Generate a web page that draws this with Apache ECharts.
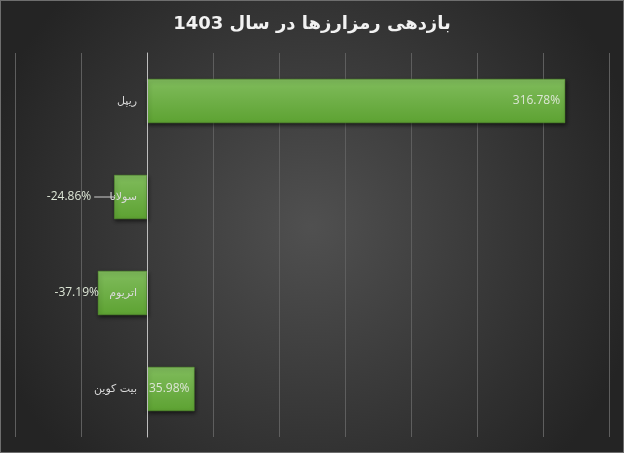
<!DOCTYPE html>
<html>
<head>
<meta charset="utf-8">
<script src="https://cdn.jsdelivr.net/npm/echarts@6/dist/echarts.min.js"></script>
<style>
  html, body { margin: 0; padding: 0; background: #2a2a2a; }
  #main { width: 622px; height: 451px; border: 1px solid #6e6e6e; }
</style>
</head>
<body>
<div id="main"></div>
<script>
// داده‌ها
var categories = ['ریپل', 'سولانا', 'اتریوم', 'بیت کوین'];
var returns = [316.78, -24.86, -37.19, 35.98];
var axisTicks = [-100, 350, 50]; // min, max, interval

var myChart = echarts.init(document.getElementById('main'));

var option = {
    backgroundColor: {
        type: 'radial', x: 0.5, y: 0.5, r: 0.75,
        colorStops: [
            { offset: 0, color: '#505050' },
            { offset: 1, color: '#242424' }
        ]
    },
    title: {
        text: 'بازدهی رمزارزها در سال 1403',
        left: 'center',
        top: 9,
        textStyle: { color: '#f2f2f2', fontSize: 18, fontWeight: 'bold', fontFamily: 'DejaVu Sans' }
    },
    grid: { left: 14, right: 14, top: 52, bottom: 15, containLabel: false, outerBoundsMode: 'none' },
    xAxis: {
        type: 'value',
        min: axisTicks[0],
        max: axisTicks[1],
        interval: axisTicks[2],
        axisLabel: { show: false },
        axisLine: { show: false },
        axisTick: { show: false },
        splitLine: { lineStyle: { color: '#5e5e5e', width: 1 } }
    },
    yAxis: {
        type: 'category',
        data: categories,
        inverse: true,
        axisLine: { onZero: true, lineStyle: { color: '#bdbdbd', width: 1 } },
        axisTick: { show: false },
        axisLabel: {
            margin: 10,
            color: '#d9d9d9',
            fontSize: 11,
            fontFamily: 'DejaVu Sans'
        },
        z: 10
    },
    series: [{
        type: 'bar',
        data: returns,
        barWidth: '46%',
        itemStyle: {
            color: {
                type: 'linear', x: 0, y: 0, x2: 0, y2: 1,
                colorStops: [
                    { offset: 0, color: '#80bc5c' },
                    { offset: 1, color: '#5da232' }
                ]
            },
            borderColor: '#5a9a30',
            borderWidth: 0.5,
            shadowColor: 'rgba(0,0,0,0.6)',
            shadowBlur: 4,
            shadowOffsetX: 1,
            shadowOffsetY: 2
        },
        label: {
            show: true,
            color: '#dde6d6',
            fontSize: 12,
            fontFamily: 'Open Sans',
            formatter: function (p) {
                var txt = p.value.toFixed(2) + '%';
                // برچسب سولانا با خط راهنما
                if (p.dataIndex === 1) return txt + '{g|}{l|}';
                return txt;
            },
            rich: {
                g: { width: 3, height: 1 },
                l: { width: 21, height: 1, backgroundColor: '#cfcfcf' }
            },
            position: 'insideRight',
            distance: 5
        },
        labelLayout: function (p) {
            var midY = p.rect.y + p.rect.height / 2;
            if (p.dataIndex === 1) {
                return { x: p.rect.x + 1, y: midY, align: 'right', verticalAlign: 'middle' };
            }
            if (p.dataIndex === 2) {
                return { x: p.rect.x + 1, y: midY, align: 'right', verticalAlign: 'middle' };
            }
            return {};
        }
    }]
};

myChart.setOption(option);

// نام‌ها کنار محور صفر
var zeroX = myChart.convertToPixel({ xAxisIndex: 0 }, 0);
myChart.setOption({ yAxis: { offset: 14 - zeroX } });
</script>
</body>
</html>
